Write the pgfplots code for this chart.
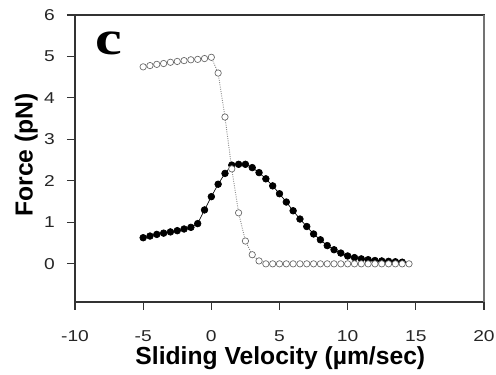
\documentclass[border=0pt]{standalone}
\usepackage{pgfplots}
\pgfplotsset{compat=1.18}
\usepackage{graphicx}
\usepackage{fontspec}
\setmainfont{Liberation Sans}
\newfontfamily\serifb{Liberation Serif}
\begin{document}
\begin{tikzpicture}
\begin{axis}[
  scale only axis,
  width=306.75pt, height=215.25pt,
  xmin=-10, xmax=20, ymin=-0.92, ymax=6,
  xtick={-10,-5,0,5,10,15,20},
  ytick={0,1,2,3,4,5,6},
  tick align=outside,
  xtick pos=bottom, ytick pos=left,
  major tick length=6pt,
  tick style={line width=0.8pt, black!80},
  axis line style={line width=1.1pt, black!80},
  /pgf/number format/assume math mode=true,
  xticklabel={\scalebox{1.22}[1]{\pgfmathprintnumber{\tick}}},
  yticklabel={\scalebox{1.22}[1]{\pgfmathprintnumber{\tick}}},
  ticklabel style={font=\fontsize{11.8pt}{13pt}\selectfont, text=black!85, inner sep=0pt},
  xticklabel style={anchor=north, yshift=-15pt},
  yticklabel style={anchor=east, xshift=-9pt},
  xlabel={Sliding Velocity (µm/sec)},
  ylabel={Force (pN)},
  xlabel style={font=\fontsize{18.5pt}{20pt}\selectfont\bfseries, at={(axis description cs:0.502,0)}, anchor=base, yshift=-47.25pt},
  ylabel style={font=\fontsize{18.5pt}{20pt}\selectfont\bfseries, at={(axis description cs:-0.0905,0.512)}, anchor=south, inner sep=0pt},
  clip=false,
]
\addplot[black, line width=0.5pt, mark=*, mark size=2.5pt, mark options={solid, fill=black}] coordinates {
(-5,0.63) (-4.5,0.67) (-4,0.71) (-3.5,0.74) (-3,0.77) (-2.5,0.80) (-2,0.84) (-1.5,0.88) (-1,0.97) (-0.5,1.30)
(0,1.62) (0.5,1.92) (1,2.18) (1.5,2.38) (2,2.40) (2.5,2.40) (3,2.32) (3.5,2.20) (4,2.05) (4.5,1.88)
(5,1.69) (5.5,1.49) (6,1.28) (6.5,1.08) (7,0.90) (7.5,0.72) (8,0.58) (8.5,0.44) (9,0.34) (9.5,0.26)
(10,0.19) (10.5,0.15) (11,0.12) (11.5,0.10) (12,0.08) (12.5,0.07) (13,0.06) (13.5,0.05) (14,0.04)
};
\addplot[black!45, densely dotted, line width=0.7pt, mark=*, mark size=2.4pt, mark options={solid, draw=black!60, fill=white, line width=0.5pt}] coordinates {
(-5,4.75) (-4.5,4.78) (-4,4.81) (-3.5,4.83) (-3,4.86) (-2.5,4.88) (-2,4.90) (-1.5,4.92) (-1,4.93) (-0.5,4.95)
(0,4.98) (0.5,4.60) (1,3.54) (1.5,2.29) (2,1.23) (2.5,0.55) (3,0.22) (3.5,0.07) (4,0) (4.5,0)
(5,0) (5.5,0) (6,0) (6.5,0) (7,0) (7.5,0) (8,0) (8.5,0) (9,0) (9.5,0)
(10,0) (10.5,0) (11,0) (11.5,0) (12,0) (12.5,0) (13,0) (13.5,0) (14,0) (14.5,0)
};
\draw[line width=1.4pt, black!80] (rel axis cs:0,1) -- (rel axis cs:1,1);
\draw[line width=1.4pt, black!80] (rel axis cs:0,0) -- (rel axis cs:0,1);
\draw[line width=0.9pt, black!55] (rel axis cs:1,0) -- (rel axis cs:1,1);
\node[anchor=base west, inner sep=0pt, xscale=1.25, font=\serifb\bfseries\fontsize{36pt}{40pt}\selectfont] at (axis cs:-8.55,5.04) {c};
\end{axis}
\path (current axis.south west) ++(-56.25pt,-52.5pt) rectangle ++(372pt,279pt);
\end{tikzpicture}
\end{document}
